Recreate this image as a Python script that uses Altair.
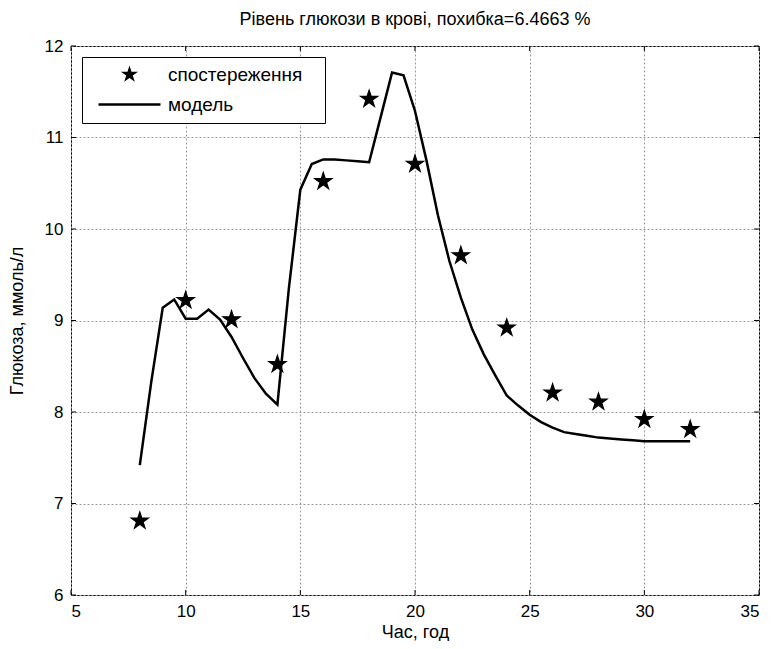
import math
import altair as alt
import pandas as pd

# ---- data ----
obs_time = [8, 10, 12, 14, 16, 18, 20, 22, 24, 26, 28, 30, 32]
obs_glucose = [6.81, 9.22, 9.01, 8.52, 10.52, 11.42, 10.71, 9.71, 8.92, 8.21, 8.11, 7.92, 7.81]

model_time = [8.0, 8.5, 9.0, 9.5, 10.0, 10.5, 11.0, 11.5, 12.0, 12.5, 13.0, 13.5, 14.0,
              14.5, 15.0, 15.5, 16.0, 16.5, 17.0, 17.5, 18.0, 18.5, 19.0, 19.5, 20.0,
              20.5, 21.0, 21.5, 22.0, 22.5, 23.0, 23.5, 24.0, 24.5, 25.0, 25.5, 26.0,
              26.5, 27.0, 27.5, 28.0, 28.5, 29.0, 29.5, 30.0, 30.5, 31.0, 31.5, 32.0]
model_glucose = [7.42, 8.33, 9.14, 9.23, 9.02, 9.02, 9.12, 9.01, 8.82, 8.59, 8.37, 8.20, 8.08,
                 9.35, 10.43, 10.71, 10.76, 10.76, 10.75, 10.74, 10.73, 11.22, 11.71, 11.68, 11.29,
                 10.75, 10.15, 9.65, 9.25, 8.90, 8.63, 8.40, 8.18, 8.07, 7.97, 7.89, 7.83,
                 7.78, 7.76, 7.74, 7.72, 7.71, 7.70, 7.69, 7.68, 7.68, 7.68, 7.68, 7.68]

series_names = ["спостереження", "модель"]
x_ticks = [5, 10, 15, 20, 25, 30, 35]
y_ticks = [6, 7, 8, 9, 10, 11, 12]

title_text = "Рівень глюкози в крові, похибка=6.4663 %"
x_title = "Час, год"
y_title = "Глюкоза, ммоль/л"

FONT = "Liberation Sans"
W, H = 688, 549
TICK = 5

# symbol size 64 -> custom path unit = 4 px
SYM_SIZE = 64
U = math.sqrt(SYM_SIZE) / 2
R_OUT = 9.0 / U
R_IN = R_OUT * 0.382
pts = []
for k in range(10):
    ang = math.radians(-90 + 36 * k)
    r = R_OUT if k % 2 == 0 else R_IN
    pts.append(f"{r*math.cos(ang):.4f},{r*math.sin(ang):.4f}")
STAR = "M" + "L".join(pts) + "Z"
hl, hw = 31.0 / U, 1.25 / U
LINE_SYM = f"M{-hl:.4f},{-hw:.4f}L{hl:.4f},{-hw:.4f}L{hl:.4f},{hw:.4f}L{-hl:.4f},{hw:.4f}Z"

obs_df = pd.DataFrame({"t": obs_time, "g": obs_glucose, "s": series_names[0]})
model_df = pd.DataFrame({"t": model_time, "g": model_glucose})
xt_df = pd.DataFrame({"t": x_ticks})
yt_df = pd.DataFrame({"g": y_ticks})

x_scale = alt.Scale(domain=[5, 35], nice=False, zero=False)
y_scale = alt.Scale(domain=[6, 12], nice=False, zero=False)

x_enc = alt.X("t:Q", scale=x_scale, axis=alt.Axis(values=x_ticks, title=x_title, format="d"))
y_enc = alt.Y("g:Q", scale=y_scale, axis=alt.Axis(values=y_ticks, title=y_title, format="d"))

line = alt.Chart(model_df).mark_line(color="black", strokeWidth=2.5).encode(
    x=x_enc, y=y_enc, order="t:Q"
)

points = alt.Chart(obs_df).mark_point(
    filled=True, fill="black", stroke="black", strokeWidth=1.2, opacity=1, size=SYM_SIZE
).encode(
    x="t:Q",
    y="g:Q",
    shape=alt.Shape(
        "s:N",
        scale=alt.Scale(domain=series_names, range=[STAR, LINE_SYM]),
        legend=alt.Legend(
            title=None, orient="none", legendX=11, legendY=11,
            padding=8, symbolOffset=30, labelOffset=29, rowPadding=10,
            strokeColor="black", fillColor="white",
            symbolSize=SYM_SIZE, symbolStrokeWidth=0,
            symbolFillColor="black",
            labelFont=FONT, labelFontSize=19, labelColor="black",
            labelExpr="datum.label + '\u2800'",
        ),
    ),
)

# inward tick marks on all four sides (MATLAB style)
tick_style = dict(color="black", strokeWidth=1)
xt_bottom = alt.Chart(xt_df).mark_rule(**tick_style).encode(
    x="t:Q", y=alt.value(H), y2=alt.value(H - TICK))
xt_top = alt.Chart(xt_df).mark_rule(**tick_style).encode(
    x="t:Q", y=alt.value(0), y2=alt.value(TICK))
yt_left = alt.Chart(yt_df).mark_rule(**tick_style).encode(
    y="g:Q", x=alt.value(0), x2=alt.value(TICK))
yt_right = alt.Chart(yt_df).mark_rule(**tick_style).encode(
    y="g:Q", x=alt.value(W), x2=alt.value(W - TICK))

chart = alt.layer(line, xt_bottom, xt_top, yt_left, yt_right, points).properties(
    width=W, height=H,
    padding={"left": 0, "top": 3, "right": 0, "bottom": 0},
    title=alt.TitleParams(title_text, font=FONT, fontSize=18, fontWeight="normal",
                          color="black", offset=8),
).configure_view(
    stroke="black", strokeWidth=1
).configure_axis(
    domain=False, ticks=False, grid=True, gridColor="#9a9a9a", gridDash=[2, 2],
    gridWidth=1, gridOpacity=1, labelFont=FONT, labelFontSize=17, labelColor="black",
    titleFont=FONT, titleFontSize=18, titleFontWeight="normal", titleColor="black",
    labelPadding=8,
).configure_axisY(titlePadding=18).configure_axisX(titlePadding=4)

chart.save("out.html", embed_options={"renderer": "svg", "actions": False})
